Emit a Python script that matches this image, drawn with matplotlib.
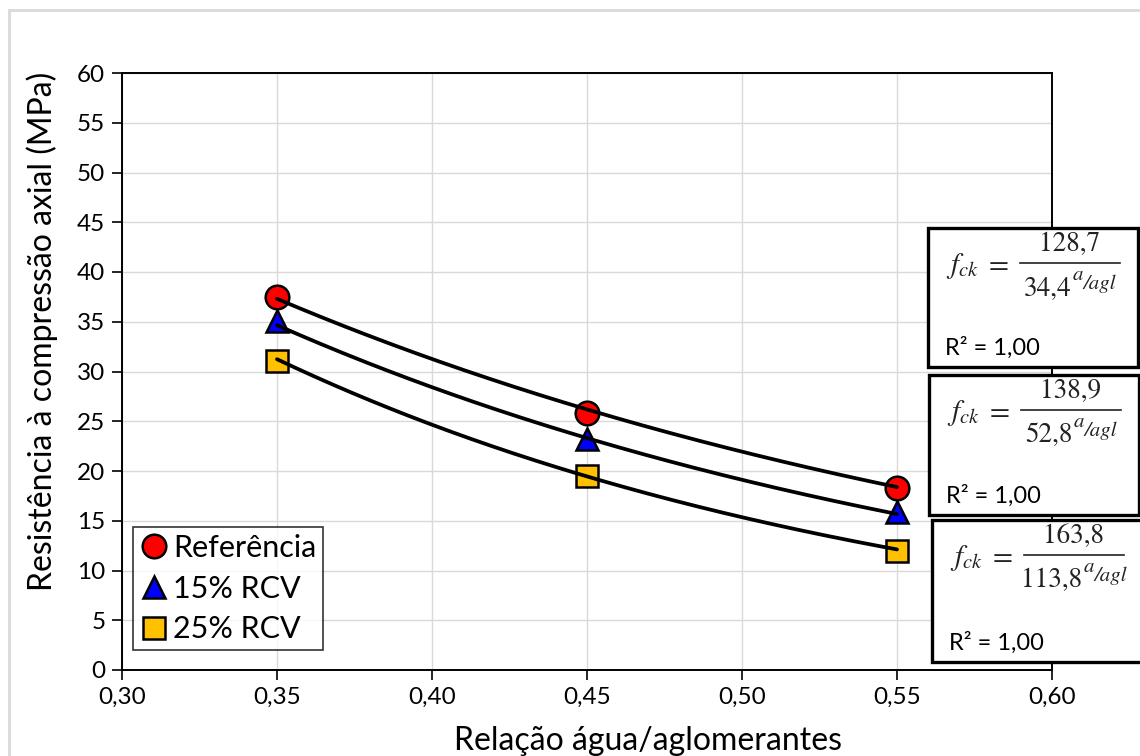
import numpy as np
import matplotlib
matplotlib.use("Agg")
import matplotlib.pyplot as plt
from matplotlib.patches import Rectangle

plt.rcParams["font.family"] = ["Lato", "DejaVu Sans"]
plt.rcParams["mathtext.fontset"] = "stix"

# Data: compressive strength vs water/binder ratio
ratio = [0.35, 0.45, 0.55]
series_names = ["Referência", "15% RCV", "25% RCV"]
ref_values = [37.5, 25.8, 18.3]
rcv15_values = [35.1, 23.2, 15.9]
rcv25_values = [31.1, 19.5, 12.0]

# Exponential fit coefficients: fck = A / B^(a/agl)
fit_A = [128.7, 138.9, 163.8]
fit_B = [34.4, 52.8, 113.8]
fit_labels_A = ["128,7", "138,9", "163,8"]
fit_labels_B = ["34,4", "52,8", "113,8"]
r2_label = "R² = 1,00"

x_ticks = [0.30, 0.35, 0.40, 0.45, 0.50, 0.55, 0.60]
y_ticks = list(range(0, 61, 5))

fig = plt.figure(figsize=(11.4, 7.56), dpi=100)
W, H = 1140, 756
AX_L, AX_R, AX_T, AX_B = 122, 1052, 73, 670
ax = fig.add_axes([AX_L / W, 1 - AX_B / H, (AX_R - AX_L) / W, (AX_B - AX_T) / H])


def fx(px):
    return px / W


def fy(py):
    return 1 - py / H


# Outer chart frame
fig.patches.append(Rectangle((fx(9), -0.1), 1.2, fy(10) + 0.1, transform=fig.transFigure,
                             fill=False, edgecolor="#d9d9d9", linewidth=2.0, zorder=0))

styles = [
    dict(marker="o", color="#ff0000", ms=17),
    dict(marker="^", color="#0000ff", ms=16),
    dict(marker="s", color="#ffc000", ms=16),
]
all_values = [ref_values, rcv15_values, rcv25_values]

xs = np.linspace(ratio[0], ratio[-1], 200)
for name, vals, st, A, B in zip(series_names, all_values, styles, fit_A, fit_B):
    ax.plot(ratio, vals, linestyle="none", marker=st["marker"], markersize=st["ms"],
            markerfacecolor=st["color"], markeredgecolor="black", markeredgewidth=1.8,
            label=name, zorder=3)
    ax.plot(xs, A / B ** xs, color="black", linewidth=2.7, zorder=4,
            solid_capstyle="round")

ax.set_xlim(0.30, 0.60)
ax.set_ylim(0, 60)
ax.set_xticks(x_ticks)
ax.set_yticks(y_ticks)
ax.set_xticklabels([f"{t:.2f}".replace(".", ",") for t in x_ticks])
ax.set_yticklabels([str(t) for t in y_ticks])
ax.tick_params(axis="both", direction="out", length=7, width=1.2, labelsize=17.5,
               colors="black", pad=5)
ax.grid(True, color="#d9d9d9", linewidth=1.0)
ax.set_axisbelow(True)
for sp in ax.spines.values():
    sp.set_linewidth(1.4)
    sp.set_color("black")

ax.set_xlabel("Relação água/aglomerantes", fontsize=23)
ax.set_ylabel("Resistência à compressão axial (MPa)", fontsize=23)
# Axis titles are centred on the chart area rather than the plot area
ax.xaxis.set_label_coords((648 - AX_L) / (AX_R - AX_L), -(741 - AX_B) / (AX_B - AX_T))
ax.yaxis.set_label_coords(-(AX_L - 42) / (AX_R - AX_L), (AX_B - 331) / (AX_B - AX_T))
ax.xaxis.label.set_va("center")
ax.yaxis.label.set_va("center")

leg = ax.legend(loc="upper left",
                bbox_to_anchor=((133 - AX_L) / (AX_R - AX_L), (AX_B - 527) / (AX_B - AX_T)),
                fontsize=22, frameon=True, fancybox=False, edgecolor="black",
                handletextpad=0.15, handlelength=0.95, borderpad=0.22, labelspacing=0.42,
                markerscale=1.0, borderaxespad=0.0)
leg.get_frame().set_linewidth(1.2)

# Equation boxes (figure pixel coordinates: left, top, right, bottom)
boxes = [(928, 228, 1138, 367), (929, 375, 1139, 515), (932, 520, 1145, 662)]
eq_color = "#222222"
renderer = fig.canvas.get_renderer()
for (l, t, r, b), a_lab, b_lab in zip(boxes, fit_labels_A, fit_labels_B):
    fig.patches.append(Rectangle((fx(l), fy(b)), (r - l) / W, (b - t) / H,
                                 transform=fig.transFigure, facecolor="white",
                                 edgecolor="black", linewidth=2.4, zorder=5))
    fig.text(fx(l + 18), fy(t + 38), r"$f_{ck}\ =$", fontsize=21,
             va="center", ha="left", zorder=6, color=eq_color)
    cx = l + 142
    fig.text(fx(cx), fy(t + 17), a_lab, fontsize=19.5, ha="center", va="center",
             family="STIXGeneral", zorder=6, color=eq_color)
    fig.add_artist(plt.Line2D([fx(l + 92), fx(l + 192)], [fy(t + 35)] * 2,
                              transform=fig.transFigure, color=eq_color, linewidth=1.2,
                              zorder=6))
    # Denominator: base number with the a/agl exponent
    base = fig.text(0, fy(t + 61), b_lab, fontsize=19.5, ha="left", va="center",
                    family="STIXGeneral", zorder=6, color=eq_color)
    sup_a = fig.text(0, fy(t + 47), "a", fontsize=15, ha="left", va="center",
                     family="STIXGeneral", style="italic", zorder=6, color=eq_color)
    sup_r = fig.text(0, fy(t + 56), "/agl", fontsize=15, ha="left", va="center",
                     family="STIXGeneral", style="italic", zorder=6, color=eq_color)
    wb = base.get_window_extent(renderer).width
    wa = sup_a.get_window_extent(renderer).width
    wr = sup_r.get_window_extent(renderer).width
    total = wb + 1 + wa + wr
    x0 = cx - total / 2
    base.set_x(fx(x0))
    sup_a.set_x(fx(x0 + wb + 1))
    sup_r.set_x(fx(x0 + wb + 1 + wa))
    fig.text(fx(l + 17), fy(b - 19), r2_label, fontsize=17, ha="left",
             va="center", zorder=6)

fig.savefig("out.png", dpi=100)
